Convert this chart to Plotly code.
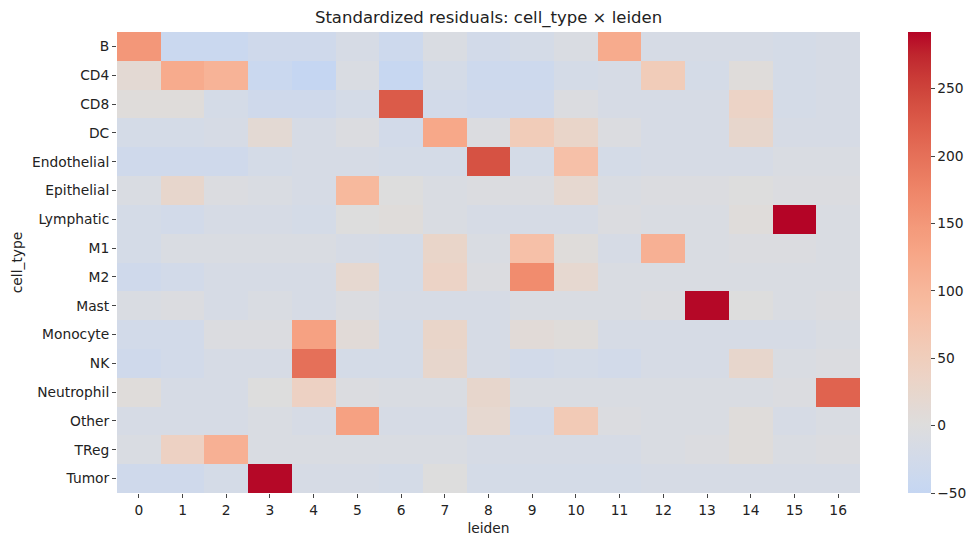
import numpy as np
import plotly.graph_objects as go

cell_types = ["B", "CD4", "CD8", "DC", "Endothelial", "Epithelial", "Lymphatic", "M1",
              "M2", "Mast", "Monocyte", "NK", "Neutrophil", "Other", "TReg", "Tumor"]
leiden = [str(i) for i in range(17)]

r_B = [150, -40, -40, -30, -30, -15, -35, -10, -25, -20, -10, 120, -15, -15, -15, -20, -15]
r_CD4 = [15, 120, 105, -40, -50, -10, -45, -20, -35, -35, -20, -15, 55, -20, 5, -20, -15]
r_CD8 = [5, 5, -20, -30, -30, -20, 225, -25, -30, -30, -5, -15, -15, -15, 35, -20, -15]
r_DC = [-20, -20, -15, 15, -15, -5, -25, 125, -5, 55, 30, -5, -15, -15, 25, -15, -15]
r_Endothelial = [-30, -30, -30, -20, -15, -15, -20, -20, 235, -20, 80, -20, -15, -15, -15, -10, -10]
r_Epithelial = [-10, 25, -5, -10, -15, 95, 0, -10, -5, -5, 20, -10, -5, -5, 0, -5, -5]
r_Lymphatic = [-20, -25, -15, -15, -20, 0, 5, -10, -15, -15, -15, -5, -10, -10, 5, 292, -10]
r_M1 = [-20, -10, -10, -10, -10, -15, -20, 30, -10, 80, 5, -15, 110, -10, -5, -5, -10]
r_M2 = [-30, -25, -15, -15, -15, 20, -20, 35, -5, 165, 20, -10, -10, -10, -10, -10, -10]
r_Mast = [-10, -5, -15, -10, -15, -5, -15, -15, -15, -10, -10, -10, -5, 290, 0, -10, -5]
r_Monocyte = [-25, -25, -5, -5, 135, 10, -20, 30, -15, 10, 5, -15, -15, -15, -15, -15, -10]
r_NK = [-30, -25, -15, -15, 200, -20, -20, 25, -15, -25, -20, -25, -15, -15, 25, -10, -5]
r_Neutrophil = [5, -15, -15, 0, 40, -5, -10, -10, 25, -10, -10, -10, -10, -10, -10, -5, 215]
r_Other = [-15, -15, -15, -10, -15, 135, -15, -15, 20, -25, 60, -5, -10, -10, 5, -15, -10]
r_TReg = [-10, 40, 110, -10, -10, -10, -10, -10, -15, -15, -15, -15, -10, -5, 5, -10, -5]
r_Tumor = [-30, -30, -20, 290, -15, -15, -20, 0, -20, -20, -20, -20, -15, -15, -15, -15, -15]

z = [r_B, r_CD4, r_CD8, r_DC, r_Endothelial, r_Epithelial, r_Lymphatic, r_M1,
     r_M2, r_Mast, r_Monocyte, r_NK, r_Neutrophil, r_Other, r_TReg, r_Tumor]

# matplotlib coolwarm reference points
cw = np.array([
    [59, 76, 192], [68, 90, 204], [77, 104, 215], [87, 117, 225], [98, 130, 234],
    [108, 142, 241], [119, 154, 247], [130, 165, 251], [141, 176, 254], [152, 185, 255],
    [163, 194, 255], [174, 201, 253], [184, 208, 249], [194, 213, 244], [204, 217, 238],
    [213, 219, 230], [221, 221, 221], [229, 216, 209], [236, 211, 197], [241, 204, 185],
    [245, 196, 173], [247, 187, 160], [247, 177, 148], [247, 166, 135], [244, 154, 123],
    [241, 141, 111], [236, 127, 99], [229, 112, 88], [222, 96, 77], [213, 80, 66],
    [203, 62, 56], [192, 40, 47], [180, 4, 38]], dtype=float)
cw_pos = np.linspace(0, 1, len(cw))

zarr = np.array(z, dtype=float)
vmin, vmax = zarr.min(), zarr.max()
vrange = max(vmax, -vmin)  # centered at 0
colorscale = []
for t in np.linspace(0, 1, 41):
    val = vmin + t * (vmax - vmin)
    p = (val + vrange) / (2 * vrange)
    rgb = [np.interp(p, cw_pos, cw[:, k]) for k in range(3)]
    colorscale.append([float(t), "rgb(%d,%d,%d)" % tuple(int(round(c)) for c in rgb)])

FS = 13.8
fig = go.Figure(go.Heatmap(
    z=z, x=list(range(17)), y=cell_types,
    zmin=vmin, zmax=vmax, colorscale=colorscale,
    colorbar=dict(
        x=1.0646, xanchor="left", xpad=0, y=0.5, yanchor="middle", len=1, lenmode="fraction",
        thickness=23, outlinewidth=0, ticks="outside", ticklen=4, tickwidth=1,
        tickvals=[-50, 0, 50, 100, 150, 200, 250],
        tickfont=dict(family="DejaVu Sans", size=FS, color="#222"), ypad=0,
    ),
    hoverongaps=False,
))

fig.update_layout(
    width=979, height=547,
    margin=dict(l=117, r=119, t=32, b=54),
    paper_bgcolor="white", plot_bgcolor="white",
    title=dict(text="Standardized residuals: cell_type × leiden", x=0.5, xref="paper",
               y=1 - 17 / 547, yanchor="middle",
               font=dict(family="DejaVu Sans", size=16.5, color="#222")),
    font=dict(family="DejaVu Sans", size=FS, color="#222"),
)
fig.update_xaxes(tickvals=list(range(17)), ticktext=leiden, ticks="outside", ticklen=4,
                 tickfont=dict(size=FS), showgrid=False, zeroline=False, showline=False,
                 title=dict(text="leiden", standoff=6, font=dict(size=FS)), range=[-0.5, 16.5])
fig.update_yaxes(autorange="reversed", ticks="outside", ticklen=4, showgrid=False,
                 tickfont=dict(size=FS), zeroline=False, showline=False,
                 title=dict(text="cell_type", standoff=6, font=dict(size=FS)))

fig.write_html("out.html")
